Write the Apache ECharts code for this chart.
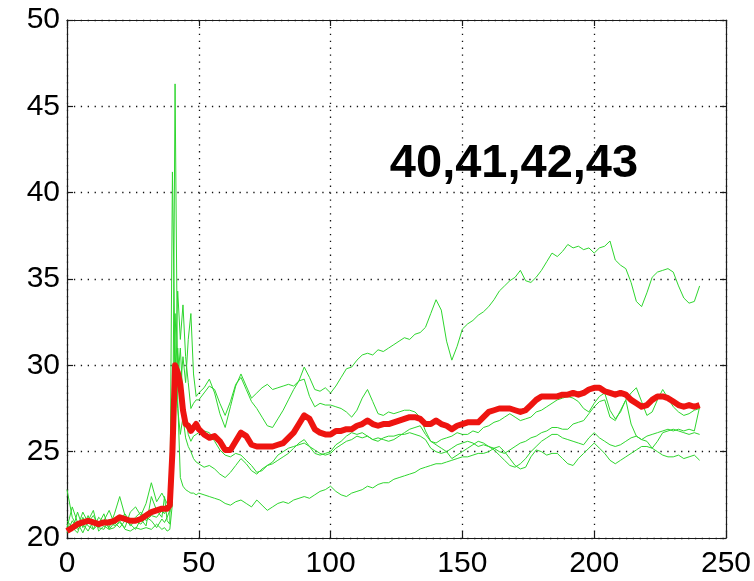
<!DOCTYPE html>
<html>
<head>
<meta charset="utf-8">
<script src="https://cdn.jsdelivr.net/npm/echarts@6/dist/echarts.min.js"></script>
<style>
  html, body { margin: 0; padding: 0; background: #fff; }
  #chart { width: 754px; height: 581px; }
</style>
</head>
<body>
<div id="chart"></div>
<script>
// Sample positions (finer steps around the jump near 40)
const xs = [
  0, 2, 4, 6, 8, 10, 12, 14, 16, 18, 20, 22, 24, 26, 28, 30, 32, 34, 36,
  37, 38, 39, 40, 41, 42, 43, 44, 45, 46, 47, 48, 49, 50,
  52, 54, 56, 58, 60, 62, 64, 66, 68, 70, 72, 74, 76, 78, 80, 82, 84, 86, 88, 90,
  92, 94, 96, 98, 100, 102, 104, 106, 108, 110, 112, 114, 116, 118, 120, 122, 124, 126, 128, 130,
  132, 134, 136, 138, 140, 142, 144, 146, 148, 150, 152, 154, 156, 158, 160, 162, 164, 166, 168, 170,
  172, 174, 176, 178, 180, 182, 184, 186, 188, 190, 192, 194, 196, 198, 200, 202, 204, 206, 208, 210,
  212, 214, 216, 218, 220, 222, 224, 226, 228, 230, 232, 234, 236, 238, 240
];

const xTicks = [0, 50, 100, 150, 200, 250];
const yTicks = [20, 25, 30, 35, 40, 45, 50];
const caption = '40,41,42,43';

// Individual runs (green)
const run40 = [
  22.8, 21.2, 20.6, 21.5, 20.9, 21.3, 20.7, 21.0, 21.6, 20.8, 21.1, 21.4, 20.9, 21.2, 21.5, 21.0, 21.3, 21.2, 21.6,
  21.4, 21.8, 22.5, 24.0, 27.5, 31.0, 28.5, 30.5, 29.0, 31.5, 33.0, 29.5, 28.2, 28.4,
  28.7, 29.2, 28.4, 27.2, 26.4, 27.6, 28.8, 29.5, 28.8, 28.1, 28.4, 28.7, 28.9, 28.6, 28.7, 28.8, 28.9, 28.8, 29.1, 29.9,
  29.3, 28.6, 28.5, 28.7, 28.4, 28.8, 29.3, 29.8, 29.9, 30.3, 30.6, 30.7, 30.6, 30.9, 30.8, 31.0, 31.2, 31.4, 31.6, 31.5,
  31.8, 31.9, 32.2, 33.0, 33.8, 33.2, 31.4, 30.3, 31.1, 32.1, 32.4, 32.6, 32.9, 33.1, 33.4, 33.8, 34.3, 34.6, 34.9, 35.1,
  35.5, 34.9, 34.8, 35.1, 35.5, 36.0, 36.5, 36.3, 36.6, 37.0, 36.8, 36.9, 36.7, 36.8, 36.5, 36.8, 36.9, 37.2, 36.1, 35.8,
  35.6, 34.8, 33.7, 33.4, 34.2, 35.1, 35.4, 35.5, 35.6, 35.4, 34.6, 33.9, 33.6, 33.7, 34.6
];
const run41 = [
  20.8, 20.4, 21.5, 20.6, 21.3, 20.5, 21.2, 20.9, 20.6, 21.4, 22.4, 21.3, 20.7, 21.0, 20.8, 21.2, 21.0, 20.6, 21.1,
  20.9, 21.2, 21.6, 23.0, 29.5, 34.3, 31.5, 33.5, 30.5, 29.0, 27.5, 27.8, 28.0, 28.0,
  28.4, 28.8, 28.6, 27.8, 27.1, 27.9, 28.9, 29.3, 28.6, 27.9, 27.5, 27.0, 26.5, 26.4, 26.9, 27.4, 28.0, 28.6, 29.1, 29.2,
  28.2, 27.6, 27.8, 27.7, 27.7, 27.6, 27.5, 27.3, 27.0, 27.4, 28.1, 28.6, 27.9, 27.2, 27.1, 27.3, 27.2, 27.3, 27.4, 27.4,
  27.3, 27.0, 26.2, 25.6, 25.5, 25.7, 25.8, 25.9, 26.1, 26.0, 26.0, 26.2, 26.1, 26.4, 26.5, 26.7, 26.8, 27.0, 27.2, 27.0,
  26.8, 26.9, 27.0, 27.3, 27.4, 27.6, 27.8, 28.0, 28.1, 28.2, 28.1, 27.9, 27.5, 27.3, 27.8, 28.2, 28.4, 27.4, 26.9, 27.3,
  28.0, 28.4, 28.7, 27.9, 27.1, 27.3, 28.0, 28.6, 28.1, 27.6, 27.3, 27.1, 27.2, 27.4, 27.5
];
const run42 = [
  20.3, 21.0, 20.5, 20.8, 20.4, 21.0, 20.6, 20.5, 21.1, 20.7, 20.9, 20.6, 21.5, 21.8, 21.3, 22.0, 23.2, 22.1, 22.6,
  22.3, 22.0, 21.5, 22.5, 33.0, 29.0, 31.0, 28.0, 27.0, 26.0, 25.6, 25.9, 26.0, 26.1,
  26.2, 26.1, 25.6, 25.1, 24.8, 24.7, 24.9, 24.8, 24.5, 24.2, 23.8, 23.9, 24.2, 24.3, 24.5, 24.7, 24.9, 25.2, 25.5, 25.7,
  25.3, 24.9, 24.8, 24.9, 25.0, 25.4, 25.6, 25.9, 26.1, 26.0, 26.1, 25.9, 25.7, 25.8, 25.7, 25.6, 25.7, 25.9, 26.1, 26.3,
  26.4, 26.5, 26.0, 25.6, 25.4, 25.2, 25.0, 24.6, 24.8, 25.0, 25.2, 25.4, 25.6, 25.5, 25.3, 25.2, 25.0, 24.9, 25.1, 25.3,
  25.5, 25.6, 25.8, 25.9, 26.1, 26.2, 26.4, 26.4, 26.3, 26.3, 26.6, 26.7, 26.8, 27.2, 27.6, 27.9, 28.0, 27.0, 26.8, 27.4,
  28.0, 26.6, 25.9, 25.7, 25.9, 26.0, 26.1, 26.2, 26.3, 26.2, 26.3, 26.2, 26.3, 26.2, 27.6
];
const run43 = [
  21.0, 20.6, 20.3, 21.2, 20.7, 20.5, 20.8, 21.4, 20.5, 20.9, 20.6, 21.0, 20.8, 20.5, 21.1, 20.7, 22.4, 21.6, 21.2,
  22.4, 21.0, 20.8, 41.2, 30.0, 27.5, 26.0, 27.0, 25.8, 25.3, 25.0, 24.6, 24.4, 24.3,
  24.1, 24.2, 24.0, 23.7, 23.5, 23.8, 24.2, 24.6, 24.3, 23.9, 23.7, 24.0, 24.2, 24.4, 24.8, 25.0, 25.2, 25.3, 25.4, 25.5,
  25.3, 25.1, 24.9, 24.8, 24.9, 25.2, 25.4, 25.6, 25.7, 25.9, 25.8, 25.9, 25.7, 25.6, 25.8, 25.9, 25.9, 26.0, 26.0, 26.1,
  26.0, 25.9, 25.7, 25.2, 25.0, 24.9, 25.0, 25.2, 25.4, 25.5, 25.6, 25.5, 25.3, 25.4, 25.3, 25.1, 24.8, 24.5, 24.2, 24.1,
  24.3, 24.6, 25.0, 25.3, 25.6, 25.8, 26.0, 26.0, 25.8, 25.7, 25.6, 25.5, 25.4, 25.8, 26.1, 25.8, 25.6, 25.4, 25.3, 25.4,
  25.6, 25.8, 25.9, 25.7, 25.6, 25.2, 25.6, 26.1, 26.2, 26.3, 26.2, 26.1, 26.0, 26.1, 26.0
];
const run44 = [
  20.6, 21.8, 20.9, 20.3, 21.0, 21.6, 20.4, 20.7, 20.5, 20.6, 21.0, 20.5, 20.4, 20.6, 20.5, 20.6, 20.5, 20.8, 20.5,
  20.6, 20.4, 20.5, 22.0, 46.3, 28.0, 23.5, 23.0, 22.8, 22.7, 22.6, 22.6, 22.5, 22.6,
  22.5, 22.4, 22.3, 22.2, 22.0, 21.9, 22.1, 22.2, 22.0, 21.8, 22.2, 21.9, 21.6, 21.8, 22.0, 22.1, 22.0, 22.2, 22.3, 22.4,
  22.3, 22.5, 22.7, 22.8, 23.0, 22.7, 22.5, 22.4, 22.6, 22.7, 22.8, 23.0, 22.9, 23.1, 23.2, 23.2, 23.4, 23.5, 23.6, 23.7,
  23.8, 24.0, 24.1, 24.2, 24.3, 24.3, 24.4, 24.5, 24.6, 24.7, 24.7, 24.8, 24.9, 24.9, 25.0, 25.2, 25.3, 25.0, 24.6, 24.2,
  24.0, 24.1, 24.7, 25.1, 25.0, 24.8, 24.9, 24.9, 24.6, 24.3, 24.2, 24.6, 24.9, 25.2, 25.5, 25.2, 24.9, 24.5, 24.3, 24.5,
  24.7, 24.9, 25.1, 25.3, 25.3, 25.2, 25.0, 24.8, 24.7, 24.7, 24.8, 24.6, 24.7, 24.8, 24.5
];

// Average of the runs (red)
const average = [
  20.4, 20.6, 20.8, 20.9, 21.0, 20.9, 20.8, 20.9, 20.9, 21.0, 21.2, 21.1, 21.0, 21.0, 21.1, 21.3, 21.5, 21.6, 21.7,
  21.7, 21.7, 21.9, 25.0, 30.0, 29.6, 28.9, 27.4, 26.6, 26.5, 26.2, 26.4, 26.6, 26.3,
  26.0, 25.8, 25.9, 25.6, 25.1, 25.1, 25.6, 26.1, 25.9, 25.4, 25.3, 25.3, 25.3, 25.3, 25.4, 25.5, 25.8, 26.1, 26.6, 27.1,
  26.9, 26.3, 26.1, 26.0, 26.0, 26.2, 26.2, 26.3, 26.3, 26.5, 26.6, 26.8, 26.6, 26.5, 26.6, 26.6, 26.7, 26.8, 26.9, 27.0,
  27.0, 26.9, 26.6, 26.6, 26.8, 26.6, 26.5, 26.3, 26.5, 26.6, 26.7, 26.7, 26.7, 27.0, 27.3, 27.4, 27.5, 27.5, 27.5, 27.4,
  27.3, 27.4, 27.7, 28.0, 28.2, 28.2, 28.2, 28.2, 28.3, 28.3, 28.4, 28.3, 28.4, 28.6, 28.7, 28.7, 28.5, 28.4, 28.3, 28.4,
  28.3, 28.0, 27.8, 27.6, 27.7, 28.0, 28.2, 28.2, 28.1, 27.9, 27.7, 27.6, 27.7, 27.6, 27.7
];

const runs = [run40, run41, run42, run43, run44];
const pairs = vals => xs.map((x, i) => [x, vals[i]]);

const FONT = '"Liberation Sans", Arial, sans-serif';
const axisCommon = {
  axisLine: { show: true, onZero: false, lineStyle: { color: '#1a1a1a', width: 1.2 } },
  axisTick: { show: true, inside: true, length: 6, lineStyle: { color: '#1a1a1a', width: 1.2 } },
  minorTick: { show: false }
};
const gridLine = { show: true, lineStyle: { color: '#111', width: 1.3, type: [1.3, 5.6] } };

const series = runs.map(r => ({
  type: 'line',
  data: pairs(r),
  showSymbol: false,
  symbol: 'none',
  lineStyle: { color: '#2ed62e', width: 1 },
  z: 2,
  silent: true
}));
series.push({
  type: 'line',
  data: pairs(average),
  showSymbol: false,
  symbol: 'none',
  lineStyle: { color: '#ee1410', width: 6, join: 'round' },
  z: 3,
  silent: true
});

const chart = echarts.init(document.getElementById('chart'), null, { renderer: 'canvas' });
chart.setOption({
  animation: false,
  backgroundColor: '#ffffff',
  grid: { left: 67, right: 28, top: 20, bottom: 43, containLabel: false },
  xAxis: [
    Object.assign({
      type: 'value', position: 'bottom', min: xTicks[0], max: xTicks[xTicks.length - 1], interval: 50,
      axisLabel: { color: '#000', fontSize: 30, fontFamily: FONT, margin: 11 },
      splitLine: gridLine
    }, axisCommon),
    Object.assign({
      type: 'value', position: 'top', min: xTicks[0], max: xTicks[xTicks.length - 1], interval: 50,
      axisLabel: { show: false }, splitLine: { show: false }
    }, axisCommon)
  ],
  yAxis: [
    Object.assign({
      type: 'value', position: 'left', min: yTicks[0], max: yTicks[yTicks.length - 1], interval: 5,
      axisLabel: { color: '#000', fontSize: 30, fontFamily: FONT, margin: 7 },
      splitLine: gridLine
    }, axisCommon),
    Object.assign({
      type: 'value', position: 'right', min: yTicks[0], max: yTicks[yTicks.length - 1], interval: 5,
      axisLabel: { show: false }, splitLine: { show: false }
    }, axisCommon)
  ],
  graphic: [{
    type: 'text',
    x: 514, y: 164,
    style: {
      text: caption,
      fill: '#000',
      font: 'bold 47px "Liberation Sans", Arial, sans-serif',
      textAlign: 'center',
      textVerticalAlign: 'middle'
    },
    z: 10
  }],
  series: series
});
</script>
</body>
</html>
